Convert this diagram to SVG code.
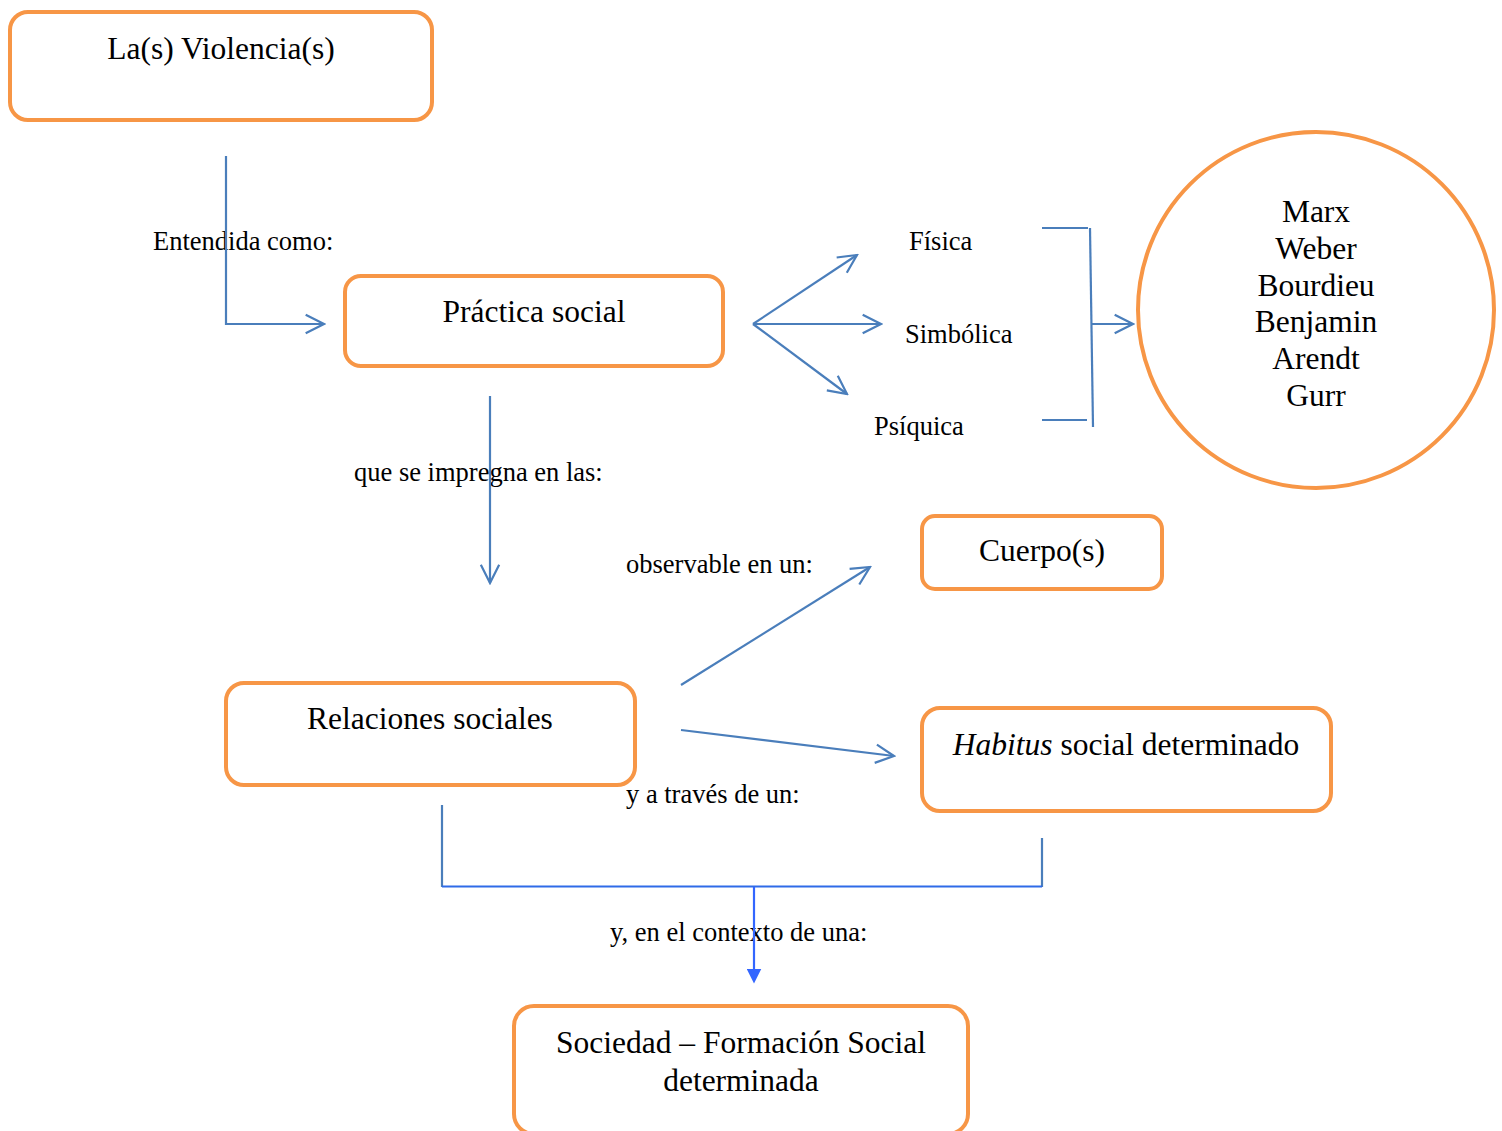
<svg xmlns="http://www.w3.org/2000/svg" width="1502" height="1131" viewBox="0 0 1502 1131">
<style>
.box{fill:#fff;stroke:#F79646;stroke-width:4}
.nt{font-family:"Liberation Serif","Times New Roman",serif;font-size:31.5px;fill:#000;text-anchor:middle}
.lb{font-family:"Liberation Serif","Times New Roman",serif;font-size:26.5px;fill:#000}
.c{fill:none;stroke:#4A7EBB;stroke-width:2.2}
.cb{fill:none;stroke:#2F6BE8;stroke-width:2.2}
</style>
<defs>
<marker id="open" viewBox="0 0 12 12" refX="11" refY="6" markerWidth="22" markerHeight="22" markerUnits="userSpaceOnUse" orient="auto">
<path d="M1,1 L11,6 L1,11" fill="none" stroke="#4A7EBB" stroke-width="1.2"/>
</marker>
<marker id="solid" viewBox="0 0 10 10" refX="9" refY="5" markerWidth="15" markerHeight="15" markerUnits="userSpaceOnUse" orient="auto">
<path d="M0,0 L10,5 L0,10 Z" fill="#3366FF"/>
</marker>
</defs>
<rect width="1502" height="1131" fill="#fff"/>

<g id="n-violencias"><rect class="box" x="10" y="12" width="422" height="108" rx="18"/><text class="nt" x="221" y="59">La(s) Violencia(s)</text></g>
<g id="n-practica"><rect class="box" x="345" y="276" width="378" height="90" rx="16"/><text class="nt" x="534" y="322">Práctica social</text></g>
<g id="n-autores"><circle cx="1316" cy="310" r="178" fill="#fff" stroke="#F79646" stroke-width="4"/>
<text class="nt" x="1316" y="222">Marx</text>
<text class="nt" x="1316" y="259">Weber</text>
<text class="nt" x="1316" y="296">Bourdieu</text>
<text class="nt" x="1316" y="332">Benjamin</text>
<text class="nt" x="1316" y="369">Arendt</text>
<text class="nt" x="1316" y="406">Gurr</text></g>
<g id="n-cuerpos"><rect class="box" x="922" y="516" width="240" height="73" rx="13"/><text class="nt" x="1042" y="561">Cuerpo(s)</text></g>
<g id="n-relaciones"><rect class="box" x="226" y="683" width="409" height="102" rx="18"/><text class="nt" x="430" y="729">Relaciones sociales</text></g>
<g id="n-habitus"><rect class="box" x="922" y="708" width="409" height="103" rx="18"/><text class="nt" x="1126" y="755"><tspan font-style="italic">Habitus</tspan> social determinado</text></g>
<g id="n-sociedad"><rect class="box" x="514" y="1006" width="454" height="128" rx="20"/><text class="nt" x="741" y="1053">Sociedad – Formación Social</text><text class="nt" x="741" y="1091">determinada</text></g>

<g id="labels">
<text class="lb" x="153" y="250">Entendida como:</text>
<text class="lb" x="909" y="250">Física</text>
<text class="lb" x="905" y="343">Simbólica</text>
<text class="lb" x="874" y="435">Psíquica</text>
<text class="lb" x="354" y="481">que se impregna en las:</text>
<text class="lb" x="626" y="573">observable en un:</text>
<text class="lb" x="626" y="803">y a través de un:</text>
<text class="lb" x="610" y="941">y, en el contexto de una:</text>
</g>

<g id="connectors">
<path class="c" d="M226,156 V324 H324" marker-end="url(#open)"/>
<path class="c" d="M753,324 L857,255" marker-end="url(#open)"/>
<path class="c" d="M753,324 L881,324" marker-end="url(#open)"/>
<path class="c" d="M753,324 L847,394" marker-end="url(#open)"/>
<path class="c" d="M1042,228 H1088"/>
<path class="c" d="M1042,420 H1087"/>
<path class="c" d="M1090,228 L1093,427"/>
<path class="c" d="M1091,324 H1133" marker-end="url(#open)"/>
<path class="c" d="M490,396 V583" marker-end="url(#open)"/>
<path class="c" d="M681,685 L870,567" marker-end="url(#open)"/>
<path class="c" d="M681,730 L894,756" marker-end="url(#open)"/>
<path class="c" d="M442,805 V887"/>
<path class="c" d="M1042,838 V887"/>
<path class="cb" d="M442,886.5 H1042"/>
<path d="M754,887 V975" fill="none" stroke="#3366FF" stroke-width="2.2"/>
<path d="M754,887 V982" fill="none" stroke="none" marker-end="url(#solid)"/>
</g>
</svg>
